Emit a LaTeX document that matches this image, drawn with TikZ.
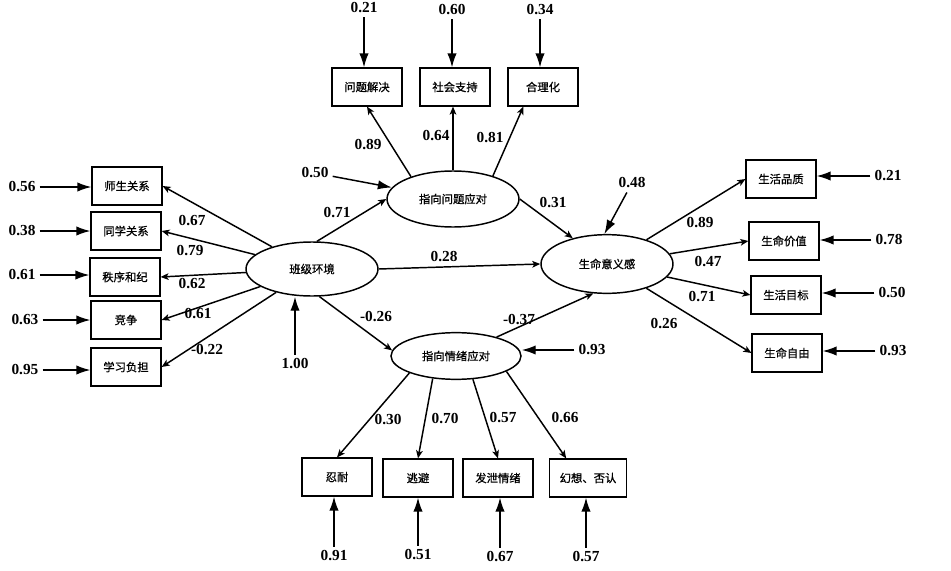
\documentclass[tikz,border=0pt]{standalone}
\usepackage{fontspec}
\setmainfont{Liberation Serif}
\newfontfamily\cjk{Noto Sans CJK SC}[FakeBold=0.8]
\usetikzlibrary{shapes.geometric,arrows.meta}

\begin{document}
\begin{tikzpicture}[x=0.75pt,y=-0.75pt,
  box/.style={draw,line width=0.9pt,inner sep=0pt,minimum width=52.5pt,minimum height=28.5pt,font=\cjk\fontsize{8.5}{10}\selectfont},
  latent/.style={draw,ellipse,line width=1.1pt,inner sep=0pt,minimum width=99pt,font=\cjk\fontsize{8.5}{10}\selectfont},
  num/.style={font=\bfseries\fontsize{11.5}{13}\selectfont,inner sep=3pt},
  load/.style={line width=1.1pt,-{Stealth[length=6pt,width=5pt,inset=1.5pt]}},
  err/.style={line width=1.1pt,-{Latex[length=10.5pt,width=7pt]}}]
\useasboundingbox (0,0) rectangle (951,571);

%% latent;
\node[latent,minimum height=40.5pt] (env) at (312,269) {班级环境};
\node[latent,minimum height=42pt] (prob) at (453,199) {指向问题应对};
\node[latent,minimum height=44pt] (mean) at (607,264) {生命意义感};
\node[latent,minimum width=97.5pt,minimum height=35pt] (emo) at (456,356) {指向情绪应对};

%% observed;
\node[box] (l1) at (127,186) {师生关系};
\node[box] (l2) at (126,231) {同学关系};
\node[box] (l3) at (125,277) {秩序和纪};
\node[box] (l4) at (126,320) {竞争};
\node[box] (l5) at (126,367) {学习负担};
\node[box] (t1) at (367,87) {问题解决};
\node[box] (t2) at (455,87) {社会支持};
\node[box] (t3) at (543,87) {合理化};
\node[box] (r1) at (781,179) {生活品质};
\node[box] (r2) at (784,241) {生命价值};
\node[box] (r3) at (786,295) {生活目标};
\node[box] (r4) at (787,353) {生命自由};
\node[box] (b1) at (337,477) {忍耐};
\node[box] (b2) at (418,478) {逃避};
\node[box] (b3) at (498,478) {发泄情绪};
\node[box,minimum width=58pt] (b4) at (588,478) {幻想、否认};

%% errors;
\node[num] (el1) at (22,187) {0.56};
\node[num] (el2) at (22,231) {0.38};
\node[num] (el3) at (22,275) {0.61};
\node[num] (el4) at (25,320) {0.63};
\node[num] (el5) at (25,370) {0.95};
\node[num] (et1) at (364,8) {0.21};
\node[num] (et2) at (452,10) {0.60};
\node[num] (et3) at (540,10) {0.34};
\node[num] (er1) at (888,176) {0.21};
\node[num] (er2) at (889,240) {0.78};
\node[num] (er3) at (892,293) {0.50};
\node[num] (er4) at (893,351) {0.93};
\node[num] (eb1) at (334,556) {0.91};
\node[num] (eb2) at (418,555) {0.51};
\node[num] (eb3) at (500,557) {0.67};
\node[num] (eb4) at (586,557) {0.57};
\node[num] (e50) at (315,173) {0.50};
\node[num] (e48) at (632,183) {0.48};
\node[num] (e100) at (295,364) {1.00};
\node[num] (e93) at (592,350) {0.93};

\foreach \i in {1,...,5} \draw[err] (el\i) -- (el\i -| l\i.west);
\foreach \i in {1,2,3} \draw[err] (et\i) -- (et\i |- t\i.north);
\foreach \i in {1,...,4} \draw[err] (er\i) -- (er\i -| r\i.east);
\foreach \i in {1,...,4} \draw[err] (eb\i) -- (eb\i |- b\i.south);
\draw[err] (e50) -- (prob);
\draw[err] (e48) -- (mean.95);
\draw[err] (e100) -- (e100 |- env.south);
\draw[err] (e93) -- (e93 -| emo.east);

%% paths;
\foreach \i in {1,...,5} \draw[load] (env) -- (l\i.east);
\foreach \i in {1,...,4} \draw[load] (mean) -- (r\i.west);
\draw[load] (env.80) -- (prob.west);
\draw[load] (env.east) -- (mean.west);
\draw[load] (env.-75) -- (emo.175);
\draw[load] (prob.east) -- (mean.143);
\draw[load] (emo.25) -- (mean.245);
\draw[load] (prob.152) -- (t1.south);
\draw[load] (prob.north) -- (prob.north |- t2.south);
\draw[load] (prob.30) -- (t3.225);
\draw[load] (emo.200) -- (b1.north);
\draw[load] (emo.224) -- (b2.north);
\draw[load] (emo.-54) -- (b3.north);
\draw[load] (emo.-17) -- (b4.138);

%% coefficients;
\node[num] (k-l1) at (192,221) {0.67};
\node[num] (k-l2) at (190,251) {0.79};
\node[num] (k-l3) at (192,284) {0.62};
\node[num] (k-l4) at (198,314) {0.61};
\node[num] (k-l5) at (207,350) {-0.22};
\node[num] (k-p) at (337,213) {0.71};
\node[num] (k-t1) at (368,145) {0.89};
\node[num] (k-t2) at (436,136) {0.64};
\node[num] (k-t3) at (490,138) {0.81};
\node[num] (k-m) at (444,257) {0.28};
\node[num] (k-pm) at (553,203) {0.31};
\node[num] (k-e) at (376,317) {-0.26};
\node[num] (k-em) at (519,320) {-0.37};
\node[num] (k-r1) at (700,223) {0.89};
\node[num] (k-r2) at (708,262) {0.47};
\node[num] (k-r3) at (702,297) {0.71};
\node[num] (k-r4) at (664,324) {0.26};
\node[num] (k-b1) at (388,420) {0.30};
\node[num] (k-b2) at (445,419) {0.70};
\node[num] (k-b3) at (503,418) {0.57};
\node[num] (k-b4) at (565,418) {0.66};

\end{tikzpicture}
\end{document}
